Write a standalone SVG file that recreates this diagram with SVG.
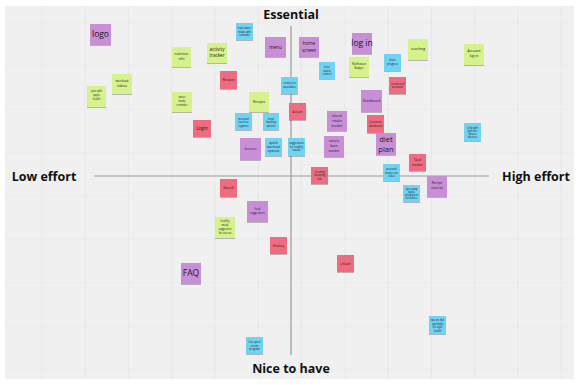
<svg xmlns="http://www.w3.org/2000/svg" width="582" height="385" viewBox="0 0 582 385">
<defs>
<pattern id="grid" x="0" y="-20" width="43.3" height="43.3" patternUnits="userSpaceOnUse">
<path d="M41.7 0V43.3M0 43.3H43.3" fill="none" stroke="#e4e4e4" stroke-width="0.8"/>
</pattern>
<filter id="sh" x="-20%" y="-20%" width="140%" height="150%">
<feDropShadow dx="0" dy="1" stdDeviation="0.7" flood-color="#000" flood-opacity="0.25"/>
</filter>
</defs>
<style>
.p{fill:#c88ed6}.g{fill:#d6f28c}.r{fill:#ef6c80}.b{fill:#6fd3f4}
rect.n{filter:url(#sh)}
text{font-family:"Open Sans","DejaVu Sans",sans-serif;fill:#1a1a1a;text-anchor:middle}
.ax{font-weight:bold;font-size:12.5px;fill:#111}
.big{font-size:8.5px}
.dp{font-size:7.6px}
.md{font-size:4.6px}
.sm{font-size:3.4px}
.xs{font-size:2.6px}
</style>
<rect width="582" height="385" fill="#fff"/>
<rect x="5" y="6" width="569" height="373" fill="#f0f0f0"/>
<rect x="5" y="6" width="569" height="373" fill="url(#grid)"/>
<g id="axes" stroke="#9a9a9a" stroke-width="1.2">
<line x1="94" y1="176" x2="489" y2="176"/>
<line x1="291" y1="26" x2="291" y2="355"/>
</g>
<text class="ax" x="291" y="19">Essential</text>
<text class="ax" x="44" y="181">Low effort</text>
<text class="ax" x="536" y="181">High effort</text>
<text class="ax" x="291" y="373">Nice to have</text>

<g id="logo"><rect class="n p" x="90" y="24" width="21" height="21"/><text class="big" x="100.5" y="37">logo</text></g>
<g id="nutrition"><rect class="n g" x="172" y="47" width="19" height="20"/><text class="sm" x="181.5" y="55">nutrition</text><text class="sm" x="181.5" y="60">info</text></g>
<g id="apple"><rect class="n g" x="87" y="86" width="19" height="21"/><text class="xs" x="96.5" y="92">sync with</text><text class="xs" x="96.5" y="96">apple</text><text class="xs" x="96.5" y="100">health</text></g>
<g id="workout"><rect class="n g" x="112" y="74" width="20" height="20"/><text class="sm" x="122" y="82">workout</text><text class="sm" x="122" y="87">videos</text></g>
<g id="water"><rect class="n g" x="172" y="92" width="20" height="20"/><text class="xs" x="182" y="98">water</text><text class="xs" x="182" y="102">intake</text><text class="xs" x="182" y="106">reminder</text></g>
<g id="login1"><rect class="n r" x="193" y="120" width="18" height="17"/><text class="md" x="202" y="130">Login</text></g>
<g id="activity"><rect class="n g" x="207" y="43" width="20" height="20"/><text class="md" x="217" y="51">activity</text><text class="md" x="217" y="57">tracker</text></g>
<g id="blue1"><rect class="n b" x="236" y="23" width="17" height="17"/><text class="xs" x="244.5" y="29">track water</text><text class="xs" x="244.5" y="32.5">intake with</text><text class="xs" x="244.5" y="36">reminder</text></g>
<g id="menu"><rect class="n p" x="265" y="37" width="21" height="20"/><text class="md" x="275.5" y="49">menu</text></g>
<g id="home"><rect class="n p" x="299" y="37" width="20" height="20"/><text class="md" x="309" y="45">home</text><text class="md" x="309" y="52">screen</text></g>
<g id="recipes1"><rect class="n r" x="220" y="71" width="17" height="18"/><text class="sm" x="228.5" y="81">Recipes</text></g>
<g id="blue2"><rect class="n b" x="281" y="77" width="17" height="17"/><text class="xs" x="289.5" y="84">connect to</text><text class="xs" x="289.5" y="87.5">wearables</text></g>
<g id="keto"><rect class="n b" x="319" y="62" width="16" height="17"/><text class="xs" x="327" y="68">keto</text><text class="xs" x="327" y="71.5">calorie</text><text class="xs" x="327" y="75">control</text></g>
<g id="recipes2"><rect class="n g" x="249" y="92" width="20" height="20"/><text class="sm" x="259" y="103">Recipes</text></g>
<g id="account"><rect class="n r" x="289" y="103" width="17" height="17"/><text class="xs" x="297.5" y="112.5">Account</text></g>
<g id="blue3"><rect class="n b" x="235" y="113" width="17" height="17"/><text class="xs" x="243.5" y="119.5">personal</text><text class="xs" x="243.5" y="123">exercise</text><text class="xs" x="243.5" y="126.5">regimen</text></g>
<g id="blue4"><rect class="n b" x="263" y="113" width="16" height="17"/><text class="xs" x="271" y="119.5">meal</text><text class="xs" x="271" y="123">tracking</text><text class="xs" x="271" y="126.5">options</text></g>
<g id="intake"><rect class="n p" x="327" y="111" width="20" height="20"/><text class="sm" x="337" y="117">calorie</text><text class="sm" x="337" y="122">intake</text><text class="sm" x="337" y="127">tracker</text></g>
<g id="login2"><rect class="n p" x="352" y="33" width="20" height="21"/><text class="big" x="362" y="46">log in</text></g>
<g id="coaching"><rect class="n g" x="408" y="39" width="20" height="21"/><text class="sm" x="418" y="50">coaching</text></g>
<g id="acclogin"><rect class="n g" x="464" y="44" width="20" height="21"/><text class="sm" x="474" y="52">Account</text><text class="sm" x="474" y="57">log in</text></g>
<g id="badges"><rect class="n g" x="349" y="57" width="20" height="20"/><text class="xs" x="359" y="65">Notification</text><text class="xs" x="359" y="69">Badges</text></g>
<g id="blue5"><rect class="n b" x="384" y="54" width="17" height="17"/><text class="xs" x="392.5" y="61">share</text><text class="xs" x="392.5" y="64.5">progress</text></g>
<g id="pink1"><rect class="n r" x="389" y="77" width="17" height="17"/><text class="xs" x="397.5" y="84.5">Connected</text><text class="xs" x="397.5" y="88">accounts</text></g>
<g id="dashboard"><rect class="n p" x="361" y="90" width="21" height="22"/><text class="sm" x="371.5" y="102">Dashboard</text></g>
<g id="pink2"><rect class="n r" x="367" y="115" width="17" height="18"/><text class="xs" x="375.5" y="123">Customize</text><text class="xs" x="375.5" y="126.5">dashboard</text></g>
<g id="blue6"><rect class="n b" x="464" y="123" width="17" height="18"/><text class="xs" x="472.5" y="128.5">Link with</text><text class="xs" x="472.5" y="131.5">with the</text><text class="xs" x="472.5" y="134.5">fitness</text><text class="xs" x="472.5" y="137.5">devices</text></g>
<g id="favourites"><rect class="n p" x="240" y="138" width="21" height="22"/><text class="xs" x="250.5" y="150">favourites</text></g>
<g id="quick"><rect class="n b" x="265" y="138" width="17" height="18"/><text class="sm" x="273.5" y="144">quick</text><text class="sm" x="273.5" y="148">workout</text><text class="sm" x="273.5" y="152">options</text></g>
<g id="suggest"><rect class="n b" x="288" y="138" width="17" height="18"/><text class="xs" x="296.5" y="144">suggestions</text><text class="xs" x="296.5" y="147.5">for healthy</text><text class="xs" x="296.5" y="151">snacks</text></g>
<g id="shopping"><rect class="n r" x="311" y="167" width="17" height="17"/><text class="xs" x="319.5" y="172.5">Creating</text><text class="xs" x="319.5" y="176">shopping</text><text class="xs" x="319.5" y="179.5">lists</text></g>
<g id="burn"><rect class="n p" x="324" y="136" width="20" height="21"/><text class="sm" x="334" y="142">calorie</text><text class="sm" x="334" y="147">burn</text><text class="sm" x="334" y="152">tracker</text></g>
<g id="diet"><rect class="n p" x="376" y="133" width="20" height="22"/><text class="dp" x="386" y="142">diet</text><text class="dp" x="386" y="151.5">plan</text></g>
<g id="goal"><rect class="n r" x="409" y="154" width="17" height="17"/><text class="sm" x="417.5" y="161">Goal</text><text class="sm" x="417.5" y="166">tracker</text></g>
<g id="blue7"><rect class="n b" x="383" y="164" width="17" height="17"/><text class="xs" x="391.5" y="170">personal</text><text class="xs" x="391.5" y="173.5">trainer via</text><text class="xs" x="391.5" y="177">video</text></g>
<g id="tutorial"><rect class="n p" x="427" y="176" width="20" height="21"/><text class="sm" x="437" y="184">Recipe</text><text class="sm" x="437" y="189">tutorial</text></g>
<g id="blue8"><rect class="n b" x="403" y="185" width="17" height="17"/><text class="xs" x="411.5" y="190">tips using</text><text class="xs" x="411.5" y="193">apple</text><text class="xs" x="411.5" y="196">integration</text><text class="xs" x="411.5" y="199">for advice</text></g>
<g id="search"><rect class="n r" x="220" y="179" width="17" height="18"/><text class="sm" x="228.5" y="189">Search</text></g>
<g id="food"><rect class="n p" x="247" y="201" width="21" height="21"/><text class="xs" x="257.5" y="210">food</text><text class="xs" x="257.5" y="214">suggestions</text></g>
<g id="healthy"><rect class="n g" x="215" y="217" width="20" height="21"/><text class="xs" x="225" y="222">healthy</text><text class="xs" x="225" y="226">meals</text><text class="xs" x="225" y="230">suggestion</text><text class="xs" x="225" y="234">for eat out</text></g>
<g id="history"><rect class="n r" x="270" y="237" width="17" height="17"/><text class="sm" x="278.5" y="247">History</text></g>
<g id="faq"><rect class="n p" x="181" y="263" width="20" height="21"/><text class="big" x="191" y="276">FAQ</text></g>
<g id="linkedin"><rect class="n r" x="337" y="255" width="17" height="17"/><text class="xs" x="345.5" y="265">Linkedin</text></g>
<g id="blue9"><rect class="n b" x="246" y="337" width="17" height="17"/><text class="xs" x="254.5" y="343">Live sport</text><text class="xs" x="254.5" y="346.5">events</text><text class="xs" x="254.5" y="350">program</text></g>
<g id="blue10"><rect class="n b" x="429" y="316" width="17" height="18"/><text class="xs" x="437.5" y="321">tips on diet</text><text class="xs" x="437.5" y="324.5">and daily</text><text class="xs" x="437.5" y="328">life style</text><text class="xs" x="437.5" y="331.5">health</text></g>
</svg>
